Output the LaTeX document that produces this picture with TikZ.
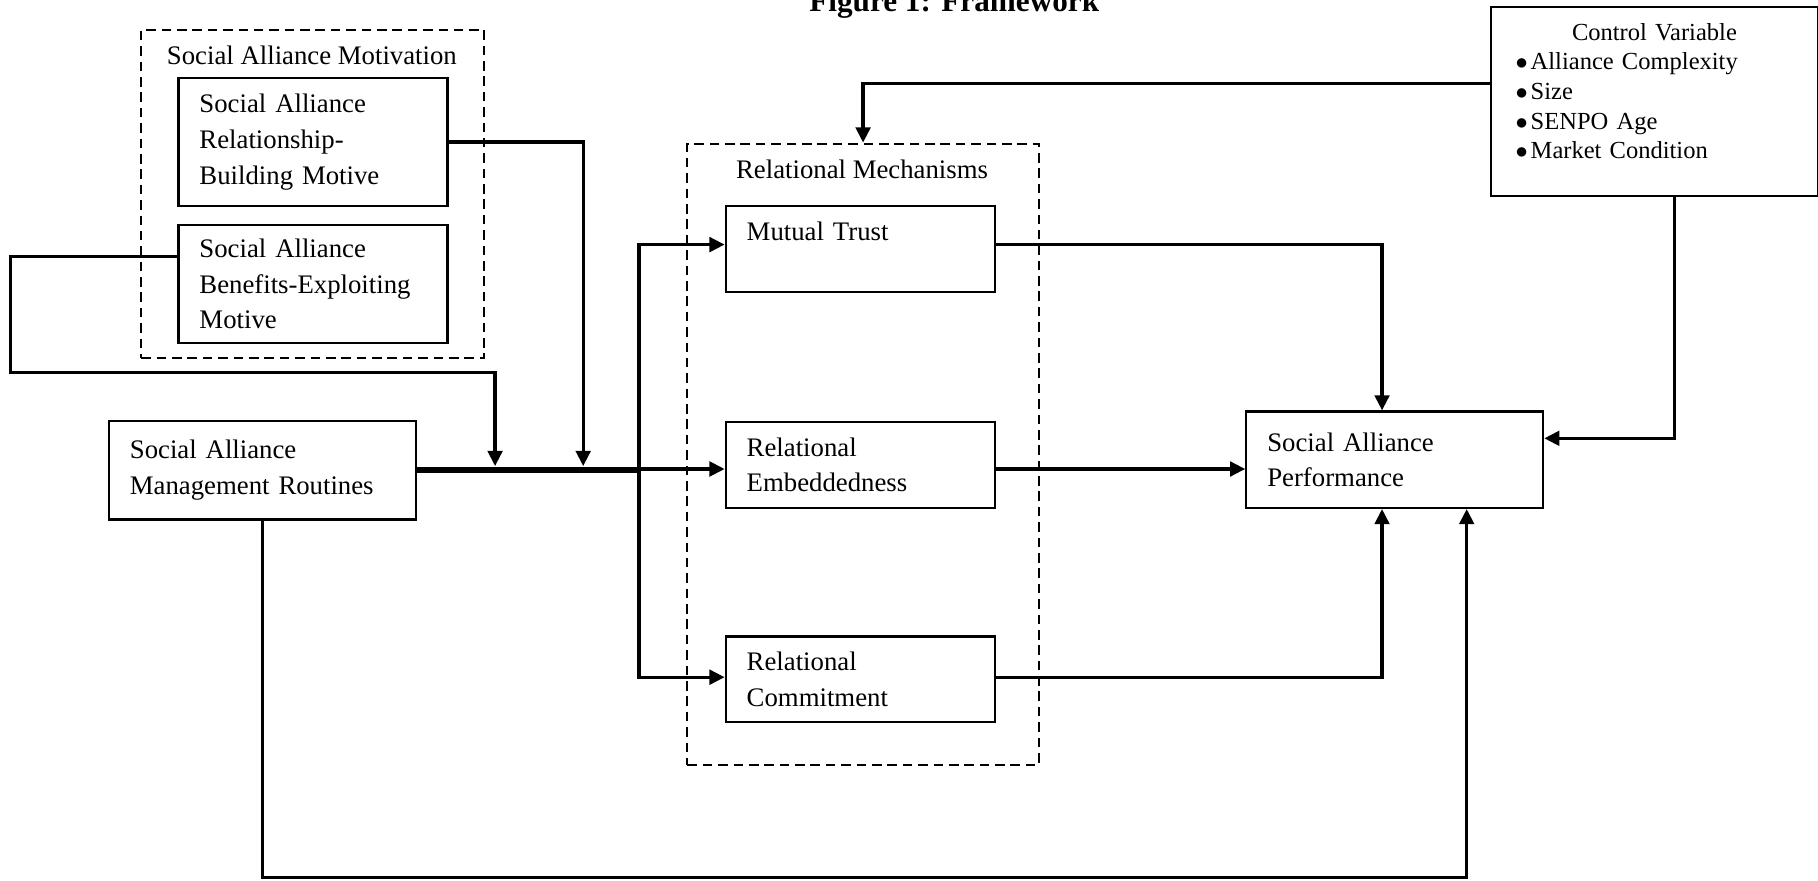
\documentclass[tikz,border=0pt]{standalone}
\usepackage{fontspec}
\setmainfont{Liberation Serif}
\usetikzlibrary{arrows.meta}

\begin{document}
\begin{tikzpicture}[x=0.52pt,y=-0.52pt,
    box/.style={draw, line width=1pt, anchor=north west, align=left,
      inner xsep=9.4pt, inner ysep=0pt, font=\fontsize{12}{16}\selectfont},
    ctrlbox/.style={draw, line width=1pt, anchor=north west, align=left,
      inner xsep=11pt, inner ysep=0pt, font=\fontsize{11}{13.3}\selectfont},
    group/.style={draw, line width=0.9pt, dash pattern=on 4.3pt off 2.6pt,
      anchor=north west, inner sep=0pt},
    grouptitle/.style={anchor=base, font=\fontsize{12}{14}\selectfont},
    conn/.style={line width=1.5pt, -{Triangle[length=6.8pt,width=6.5pt]}},
    trunk/.style={line width=2.5pt}]
  \useasboundingbox (0,0) rectangle (1568,759);

  \node[anchor=base, font=\fontsize{14}{16}\selectfont\bfseries] (title) at (823,10) {Figure 1: Framework};

  % motivation group
  \node[group, minimum width=153.9pt, minimum height=147.2pt] (motivation) at (121,25) {};
  \node[grouptitle] (motivationtitle) at (269,56) {Social Alliance Motivation};
  \node[box, text width=101.8pt, minimum height=57.7pt] (rb) at (153,66)
    {Social Alliance\\Relationship-\\Building Motive};
  \node[box, text width=101.8pt, minimum height=53pt] (be) at (153,193)
    {Social Alliance\\Benefits-Exploiting\\Motive};

  \node[box, text width=119pt, minimum height=44.2pt] (samr) at (93,362)
    {Social Alliance\\Management Routines};

  % relational mechanisms group
  \node[group, minimum width=157.6pt, minimum height=278.7pt] (mechanisms) at (592,123) {};
  \node[grouptitle] (mechanismstitle) at (743.5,154) {Relational Mechanisms};
  \node[box, text width=101.8pt, minimum height=38.5pt] (mt) at (625,177)
    {Mutual Trust\\\mbox{}};
  \node[box, text width=101.8pt, minimum height=38.5pt] (re) at (625,363)
    {Relational\\Embeddedness};
  \node[box, text width=101.8pt, minimum height=38.5pt] (rc) at (625,548)
    {Relational\\Commitment};

  \node[box, text width=114.3pt, minimum height=43.2pt] (perf) at (1074,354)
    {Social Alliance\\Performance};

  \node[ctrlbox, text width=124.6pt, minimum height=84.8pt] (control) at (1285,5)
    {\null\hfill Control Variable\hfill\null\\
     \makebox[6.8pt][l]{$\bullet$}Alliance Complexity\\
     \makebox[6.8pt][l]{$\bullet$}Size\\
     \makebox[6.8pt][l]{$\bullet$}SENPO Age\\
     \makebox[6.8pt][l]{$\bullet$}Market Condition\\[-3.8pt]\mbox{}};

  \coordinate (jA) at (427,402);
  \coordinate (jB) at (503,402);
  \coordinate (split) at (551,404.5);
  \coordinate (loopL) at (9,321);
  \coordinate (floorR) at (1265,757);

  % connectors
  \draw[conn] (rb.east) -| (jB);
  \draw[conn] ([yshift=-14.6pt]be.north west) -| (loopL) -| (jA);
  \draw[trunk] (samr.east) -- (samr.east -| split);
  \draw[conn] (split) -- (split -| re.west);
  \draw[conn] (split) |- ([yshift=2.1pt]mt.west);
  \draw[conn] (split) |- ([yshift=1pt]rc.west);

  \draw[conn] ([yshift=2.1pt]mt.east) -| ([xshift=-5.7pt]perf.north);
  \draw[conn] (split -| re.east) -- (split -| perf.west);
  \draw[conn] ([yshift=1pt]rc.east) -| ([xshift=-5.7pt]perf.south);
  \draw[conn] (samr.south) |- (floorR) -- (floorR |- perf.south);

  \draw[conn] ([yshift=8.1pt]control.west) -| (mechanisms.north);
  \draw[conn] ([xshift=9.1pt]control.south) |- ([yshift=9.6pt]perf.east);
\end{tikzpicture}
\end{document}
